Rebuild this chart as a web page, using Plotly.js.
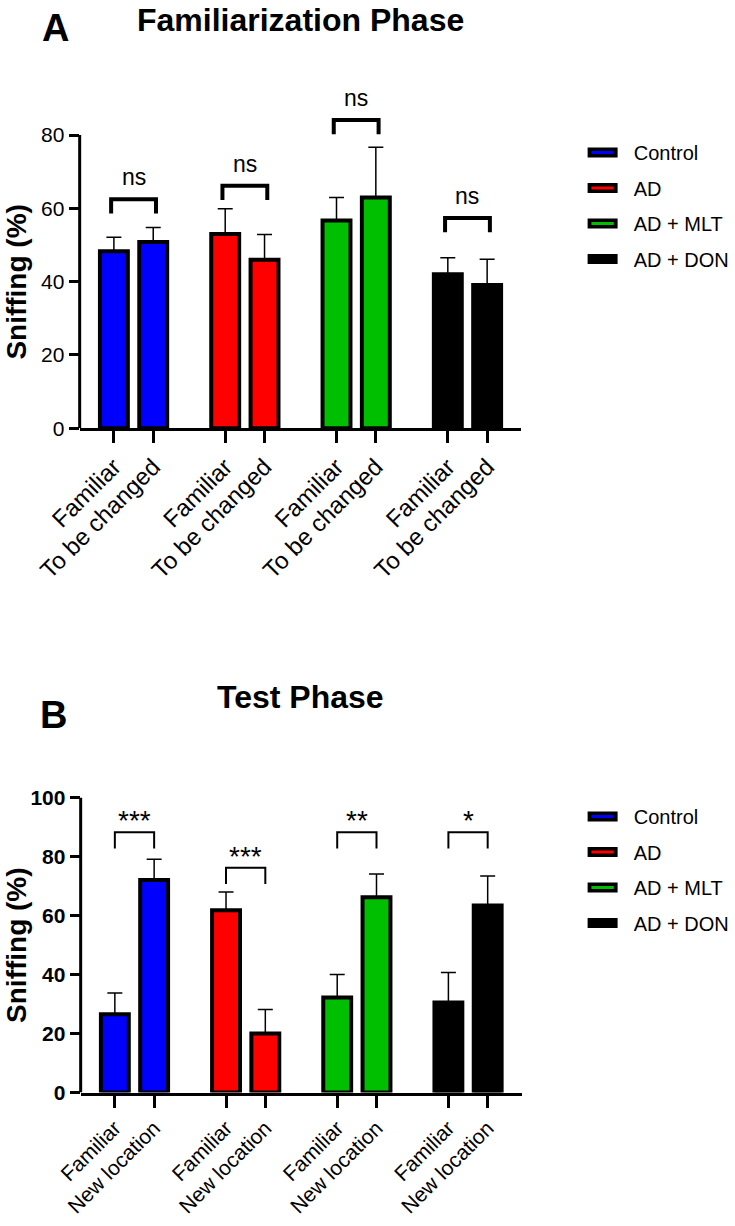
<!DOCTYPE html>
<html>
<head>
<meta charset="utf-8">
<script src="https://cdn.plot.ly/plotly-3.0.1.min.js"></script>
<style>
  html, body { margin: 0; padding: 0; background: #fff; }
  #chart { width: 735px; height: 1226px; }
</style>
</head>
<body>
<div id="chart"></div>
<script>
// === Data ===
const groups = ['Control', 'AD', 'AD + MLT', 'AD + DON'];
const groupColors = ['#0000ff', '#ff0000', '#00bf00', '#000000'];

// Panel A - Familiarization phase
const labelsA = ['Familiar', 'To be changed'];
const familiarA = [48.3, 53.0, 56.7, 42.0];
const changedA = [50.8, 46.0, 63.0, 39.1];
const familiarErrA = [3.8, 6.9, 6.3, 4.5];
const changedErrA = [4.0, 6.9, 13.7, 7.0];
const sigTextA = ['ns', 'ns', 'ns', 'ns'];
const sigHeightA = [62.5, 66.2, 84.1, 57.4];

// Panel B - Test phase
const labelsB = ['Familiar', 'New location'];
const familiarB = [26.5, 61.8, 32.2, 30.5];
const newLocB = [72.0, 20.0, 66.2, 63.4];
const familiarErrB = [7.2, 6.2, 7.8, 10.2];
const newLocErrB = [7.1, 8.1, 7.9, 10.0];
const sigTextB = ['***', '***', '**', '*'];
const sigHeightB = [88.2, 76.2, 88.2, 88.2];

// === Layout helpers ===
const W = 735, H = 1226;
const px = v => v / W;
const py = v => 1 - v / H;
const FONT = 'Liberation Sans, Arial, sans-serif';
const GROUP_STEP = 2.83;
const pos = (g, i) => g * GROUP_STEP + i;
const X_RANGE = [-0.87, 3 * GROUP_STEP + 1 + 0.87];
const LEGEND_PAD = '\u00a0\u00a0'; // extra room between swatch and label

const traces = [];
const shapes = [];
const annotations = [];

function buildPanel(opt) {
    const { xa, ya, legendId, first, second, firstErr, secondErr,
            sigText, sigHeight, sigDrop, sigWidth, sigPad, sigFont, sigShift, yTop } = opt;

    groups.forEach((name, g) => {
        traces.push({
            type: 'bar',
            x: [pos(g, 0), pos(g, 1)],
            y: [first[g], second[g]],
            width: 0.71,
            xaxis: xa, yaxis: ya,
            marker: { color: groupColors[g], line: { color: '#000', width: 4 } },
            error_y: {
                type: 'data', symmetric: false,
                array: [firstErr[g], secondErr[g]], arrayminus: [0, 0],
                color: '#000', thickness: 1.5, width: 7.5
            },
            showlegend: false,
            hoverinfo: 'skip'
        });

        // legend entry (black box with coloured stripe)
        traces.push({
            type: 'scatter', mode: 'lines+markers',
            x: [null], y: [null],
            xaxis: xa, yaxis: ya,
            name: LEGEND_PAD + name,
            legend: legendId,
            legendgroup: legendId + g,
            line: { color: '#000', width: 12 },
            marker: { symbol: 'line-ew-open', size: 22, color: groupColors[g],
                      line: { color: groupColors[g], width: 3 } },
            hoverinfo: 'skip'
        });

        // significance bracket
        const x0 = pos(g, 0) - sigPad, x1 = pos(g, 1) + sigPad;
        const top = sigHeight[g], bot = sigHeight[g] - sigDrop;
        shapes.push({
            type: 'path', xref: xa, yref: ya,
            path: `M ${x0},${bot} L ${x0},${top} L ${x1},${top} L ${x1},${bot}`,
            line: { color: '#000', width: sigWidth }
        });
        annotations.push({
            xref: xa, yref: ya, x: (x0 + x1) / 2, y: top,
            text: sigText[g], showarrow: false,
            xanchor: 'center', yanchor: 'bottom', yshift: sigShift,
            font: { family: FONT, size: sigFont, color: '#000' }
        });
    });

    // y axis line only up to the last tick
    shapes.push({
        type: 'line', xref: xa + ' domain', x0: 0, x1: 0,
        yref: ya, y0: 0, y1: yTop,
        line: { color: '#000', width: 3 }
    });
}

buildPanel({
    xa: 'x', ya: 'y', legendId: 'legend',
    first: familiarA, second: changedA, firstErr: familiarErrA, secondErr: changedErrA,
    sigText: sigTextA, sigHeight: sigHeightA, sigDrop: 3.9, sigWidth: 4, sigPad: 0.07,
    sigFont: 23, sigShift: 7, yTop: 80
});
buildPanel({
    xa: 'x2', ya: 'y2', legendId: 'legend2',
    first: familiarB, second: newLocB, firstErr: familiarErrB, secondErr: newLocErrB,
    sigText: sigTextB, sigHeight: sigHeightB, sigDrop: 5.5, sigWidth: 2, sigPad: 0,
    sigFont: 28, sigShift: -6, yTop: 100
});

function tickPositions() {
    const v = [];
    groups.forEach((_, g) => { v.push(pos(g, 0), pos(g, 1)); });
    return v;
}
function tickTexts(labels) {
    const t = [];
    groups.forEach(() => { t.push(labels[0], labels[1]); });
    return t;
}

const xAxisBase = {
    range: X_RANGE,
    showgrid: false, zeroline: false,
    showline: true, linecolor: '#000', linewidth: 3,
    ticks: 'outside', ticklen: 12, tickwidth: 3, tickcolor: '#000',
    tickmode: 'array', tickvals: tickPositions(),
    tickangle: -45,
    fixedrange: true
};
const yAxisBase = {
    showgrid: false, zeroline: false, showline: false,
    ticks: 'outside', ticklen: 10, tickwidth: 3, tickcolor: '#000',
    tick0: 0, dtick: 20,
    fixedrange: true
};

annotations.push(
    { xref: 'paper', yref: 'paper', x: px(302), y: 1, text: '<b>Familiarization Phase</b>',
      showarrow: false, xanchor: 'center', yanchor: 'top',
      font: { family: FONT, size: 32, color: '#000' } },
    { xref: 'paper', yref: 'paper', x: px(56), y: py(28), text: '<b>A</b>',
      showarrow: false, xanchor: 'center', yanchor: 'middle',
      font: { family: FONT, size: 38, color: '#000' } },
    { xref: 'paper', yref: 'paper', x: px(302), y: py(697), text: '<b>Test Phase</b>',
      showarrow: false, xanchor: 'center', yanchor: 'middle',
      font: { family: FONT, size: 32, color: '#000' } },
    { xref: 'paper', yref: 'paper', x: px(54), y: py(715), text: '<b>B</b>',
      showarrow: false, xanchor: 'center', yanchor: 'middle',
      font: { family: FONT, size: 38, color: '#000' } },
    { xref: 'paper', yref: 'y', x: px(17), y: 40, text: '<b>Sniffing (%)</b>',
      showarrow: false, textangle: -90, xanchor: 'center', yanchor: 'middle',
      font: { family: FONT, size: 28, color: '#000' } },
    { xref: 'paper', yref: 'y2', x: px(17), y: 50, text: '<b>Sniffing (%)</b>',
      showarrow: false, textangle: -90, xanchor: 'center', yanchor: 'middle',
      font: { family: FONT, size: 28, color: '#000' } }
);

const legendBase = {
    xanchor: 'left', yanchor: 'top',
    font: { family: FONT, size: 20, color: '#000' },
    tracegroupgap: 6.5,
    bgcolor: 'rgba(0,0,0,0)', borderwidth: 0,
    itemclick: false, itemdoubleclick: false
};

const layout = {
    width: W, height: H,
    margin: { l: 0, r: 0, t: 0, b: 0 },
    paper_bgcolor: '#fff', plot_bgcolor: '#fff',
    font: { family: FONT, color: '#000' },
    bargap: 0,
    xaxis: Object.assign({}, xAxisBase, {
        domain: [px(80), px(523.5)], anchor: 'y', ticktext: tickTexts(labelsA),
        tickfont: { family: FONT, size: 24, color: '#000' }
    }),
    yaxis: Object.assign({}, yAxisBase, {
        domain: [py(428.3), py(80.1)], anchor: 'x', range: [0, 95],
        tickfont: { family: FONT, size: 21, color: '#000' }
    }),
    xaxis2: Object.assign({}, xAxisBase, {
        domain: [px(81), px(524)], anchor: 'y2', ticktext: tickTexts(labelsB),
        tickfont: { family: FONT, size: 21, color: '#000' }
    }),
    yaxis2: Object.assign({}, yAxisBase, {
        domain: [py(1092.5), py(797.5)], anchor: 'x2', range: [0, 100],
        tickfont: { family: FONT, size: 21, color: '#000', weight: 'bold' }
    }),
    legend: Object.assign({}, legendBase, { x: px(585), y: py(133) }),
    legend2: Object.assign({}, legendBase, { x: px(585), y: py(797) }),
    shapes: shapes,
    annotations: annotations
};

Plotly.newPlot('chart', traces, layout, { displayModeBar: false, staticPlot: true });
</script>
</body>
</html>
